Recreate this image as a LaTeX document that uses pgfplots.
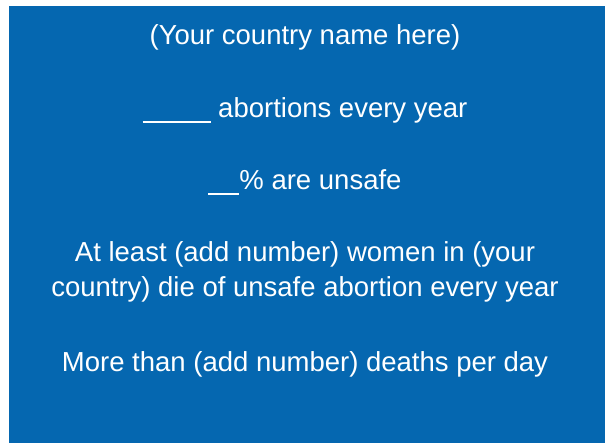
\documentclass[border=0pt]{standalone}
\usepackage{pgfplots}
\pgfplotsset{compat=1.18}
\usepackage{fontspec}
\setmainfont{Liberation Sans}
\definecolor{slideblue}{RGB}{5,103,176}
\begin{document}
\begin{tikzpicture}
\begin{axis}[
  scale only axis, width=605pt, height=443pt,
  xmin=0, xmax=605, ymin=0, ymax=443, y dir=reverse,
  hide axis, clip=false, enlargelimits=false,
]
\addplot[fill=white, draw=none] coordinates {(0,0) (605,0) (605,443) (0,443)} -- cycle;
\addplot[fill=slideblue, draw=none] coordinates {(9,6) (605,6) (605,443) (9,443)} -- cycle;
\begin{scope}[every node/.style={anchor=base, text=white, inner sep=0pt, font=\fontsize{27.5}{33}\selectfont}]
\node at (axis cs:305,45) {(Your country name here)};
\node at (axis cs:305,118) {\rule[-5.5pt]{68pt}{2.2pt} abortions every year};
\node at (axis cs:305,190) {\rule[-5.5pt]{31pt}{2.2pt}\% are unsafe};
\node at (axis cs:305,262) {At least (add number) women in (your};
\node at (axis cs:305,297) {country) die of unsafe abortion every year};
\node at (axis cs:305,372) {More than (add number) deaths per day};
\end{scope}
\end{axis}
\end{tikzpicture}
\end{document}
